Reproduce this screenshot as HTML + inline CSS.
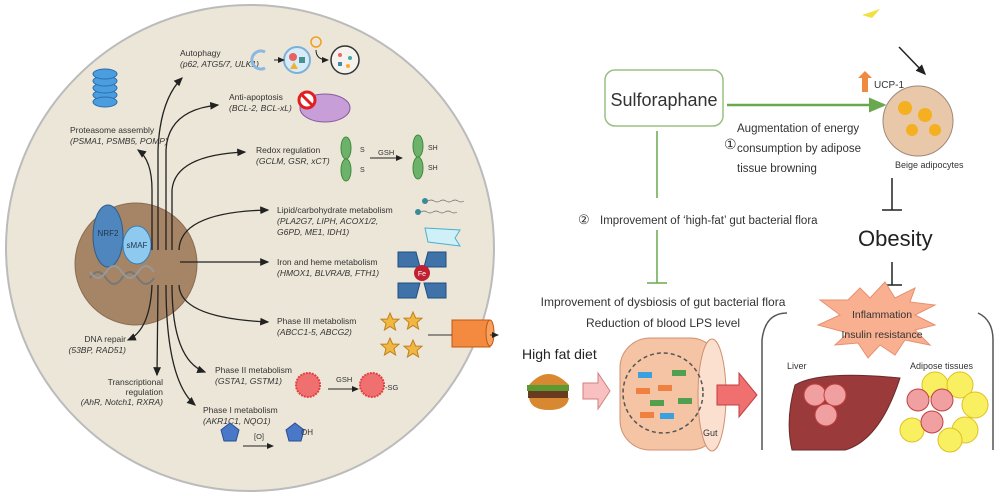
<!DOCTYPE html>
<html><head><meta charset="utf-8"><style>
html,body{margin:0;padding:0;background:#fff;}
svg{display:block;font-family:"Liberation Sans",sans-serif;}
.t{font-size:8.5px;fill:#333;}
.i{font-size:8.5px;fill:#333;font-style:italic;}
.r{font-size:11.5px;fill:#333;}
</style></head><body>
<svg width="1003" height="494" viewBox="0 0 1003 494" xmlns="http://www.w3.org/2000/svg">
<defs>
<marker id="ah" markerWidth="8" markerHeight="8" refX="6" refY="3" orient="auto"><path d="M0,0 L7,3 L0,6 Z" fill="#222"/></marker>
<marker id="ag" markerWidth="8" markerHeight="8" refX="6" refY="3" orient="auto"><path d="M0,0 L7,3 L0,6 Z" fill="#6aa84f"/></marker>
<path id="star" d="M0,-9 L2.6,-3 L9,-2.8 L4,1.5 L5.6,8 L0,4.4 L-5.6,8 L-4,1.5 L-9,-2.8 L-2.6,-3Z"/>
</defs>
<rect width="1003" height="494" fill="#fff"/>
<ellipse cx="250" cy="248" rx="244" ry="243" fill="#ece6d8" stroke="#bbb" stroke-width="2"/>
<circle cx="136" cy="264" r="61" fill="#a58565" stroke="#8a6c50"/>
<ellipse cx="108" cy="236" rx="15" ry="31" fill="#4f86bd" stroke="#2d5d8c"/>
<text x="108" y="236" font-size="8" fill="#1d3550" text-anchor="middle">NRF2</text>
<ellipse cx="137" cy="245" rx="14" ry="19" fill="#8ec9ef" stroke="#3a7db5"/>
<text x="137" y="248" font-size="8" fill="#1d3550" text-anchor="middle">sMAF</text>
<path d="M90,278 q8,-12 16,0 t16,0 t16,0 t16,0" stroke="#777" fill="none" stroke-width="2"/>
<path d="M90,272 q8,12 16,0 t16,0 t16,0 t16,0" stroke="#999" fill="none" stroke-width="2"/>
<g stroke="#222" stroke-width="1.3" fill="none" marker-end="url(#ah)">
<path d="M158,250 L158,150 Q160,100 182,78"/>
<path d="M166,250 L166,150 Q168,110 218,105"/>
<path d="M152,250 L152,190 Q152,160 138,150"/>
<path d="M172,250 L172,190 Q175,155 245,152"/>
<path d="M179,250 Q180,212 268,210"/>
<path d="M180,262 L268,262"/>
<path d="M179,285 Q180,318 268,322"/>
<path d="M172,285 Q172,360 205,372"/>
<path d="M166,285 Q166,380 195,405"/>
<path d="M158,285 L157,375"/>
<path d="M152,285 Q150,330 128,340"/>
</g>
<text class="t" x="180" y="56">Autophagy</text><text class="i" x="180" y="67">(p62, ATG5/7, ULK1)</text>
<text class="t" x="229" y="100">Anti-apoptosis</text><text class="i" x="229" y="111">(BCL-2, BCL-xL)</text>
<text class="t" x="70" y="133">Proteasome assembly</text><text class="i" x="70" y="144">(PSMA1, PSMB5, POMP)</text>
<text class="t" x="256" y="153">Redox regulation</text><text class="i" x="256" y="164">(GCLM, GSR, xCT)</text>
<text class="t" x="277" y="213">Lipid/carbohydrate metabolism</text><text class="i" x="277" y="224">(PLA2G7, LIPH, ACOX1/2,</text><text class="i" x="277" y="235">G6PD, ME1, IDH1)</text>
<text class="t" x="277" y="265">Iron and heme metabolism</text><text class="i" x="277" y="276">(HMOX1, BLVRA/B, FTH1)</text>
<text class="t" x="277" y="324">Phase III metabolism</text><text class="i" x="277" y="335">(ABCC1-5, ABCG2)</text>
<text class="t" x="126" y="342" text-anchor="end">DNA repair</text><text class="i" x="126" y="353" text-anchor="end">(53BP, RAD51)</text>
<text class="t" x="163" y="385" text-anchor="end">Transcriptional</text><text class="t" x="163" y="395" text-anchor="end">regulation</text><text class="i" x="163" y="405" text-anchor="end">(AhR, Notch1, RXRA)</text>
<text class="t" x="215" y="373">Phase II metabolism</text><text class="i" x="215" y="384">(GSTA1, GSTM1)</text>
<text class="t" x="203" y="413">Phase I metabolism</text><text class="i" x="203" y="424">(AKR1C1, NQO1)</text>
<g fill="#4a9ee0" stroke="#2a6ea8"><ellipse cx="105" cy="95" rx="12" ry="5"/><ellipse cx="105" cy="88" rx="12" ry="5"/><ellipse cx="105" cy="81" rx="12" ry="5"/><ellipse cx="105" cy="74" rx="12" ry="5"/><ellipse cx="105" cy="102" rx="12" ry="5"/></g>
<path d="M265,52 a9,9 0 1 0 0,16" stroke="#8cb8e0" stroke-width="3" fill="none"/>
<circle cx="297" cy="60" r="13" fill="#d8ecf8" stroke="#7ab0da" stroke-width="2"/>
<circle cx="293" cy="57" r="4" fill="#e86060"/><rect x="299" y="57" width="6" height="6" fill="#4a9090"/><path d="M290,69 l4,-7 l4,7z" fill="#f0b030"/>
<circle cx="316" cy="42" r="5" fill="none" stroke="#f0a020" stroke-width="1.5"/>
<circle cx="345" cy="60" r="14" fill="#f6f3ee" stroke="#333" stroke-width="1.5"/>
<circle cx="340" cy="55" r="2" fill="#e66"/><circle cx="350" cy="58" r="2" fill="#4aa"/><rect x="338" y="62" width="4" height="4" fill="#48a"/><circle cx="348" cy="66" r="2" fill="#fa3"/>
<path d="M274,60 h10" stroke="#222" marker-end="url(#ah)"/><path d="M316,50 q0,10 12,10" stroke="#222" fill="none" marker-end="url(#ah)"/>
<ellipse cx="325" cy="108" rx="25" ry="14" fill="#c79ed8" stroke="#8a5aa0"/>
<circle cx="307" cy="100" r="8" fill="#fff" stroke="#e02020" stroke-width="3"/><path d="M302,95 l10,10" stroke="#e02020" stroke-width="3"/>
<g fill="#6cb26a" stroke="#3e8a3c"><ellipse cx="346" cy="148" rx="5" ry="11"/><ellipse cx="346" cy="170" rx="5" ry="11"/><ellipse cx="418" cy="146" rx="5" ry="11"/><ellipse cx="418" cy="168" rx="5" ry="11"/></g>
<text x="360" y="152" font-size="7" fill="#333">S</text><text x="360" y="172" font-size="7" fill="#333">S</text>
<text x="378" y="155" font-size="7.5" fill="#333">GSH</text><path d="M370,158 h32" stroke="#222" marker-end="url(#ah)"/>
<text x="428" y="150" font-size="7" fill="#333">SH</text><text x="428" y="170" font-size="7" fill="#333">SH</text>
<circle cx="425" cy="201" r="3" fill="#3a8a9a"/><circle cx="418" cy="212" r="3" fill="#3a8a9a"/>
<path d="M428,201 q3,-2 6,0 t6,0 t6,0 t6,0 t6,0 t6,0 M421,212 q3,-2 6,0 t6,0 t6,0 t6,0 t6,0 t6,0" stroke="#666" fill="none" stroke-width="0.7"/>
<path d="M425,228 l35,2 l-5,8 l5,8 l-32,-4z" fill="#d0f0f8" stroke="#4ab0d0"/>
<g fill="#3f72a8" stroke="#1f4f80"><path d="M398,252 h18 l4,15 h-22z"/><path d="M428,252 h18 v15 h-22z"/><path d="M398,283 h22 l-4,15 h-18z"/><path d="M424,283 h22 v15 h-18z"/></g>
<circle cx="422" cy="273" r="8" fill="#c02030"/><text x="422" y="276" font-size="7" fill="#fff" text-anchor="middle">Fe</text>
<g fill="#f0b840" stroke="#c08020"><use href="#star" x="390" y="322"/><use href="#star" x="413" y="321"/><use href="#star" x="390" y="347"/><use href="#star" x="413" y="349"/></g>
<rect x="452" y="320" width="38" height="27" fill="#f48a40" stroke="#c05810"/><ellipse cx="490" cy="333" rx="4" ry="13" fill="#f8a060" stroke="#c05810"/>
<path d="M428,335 h24 M490,335 h8" stroke="#333" marker-end="url(#ah)"/>
<circle cx="308" cy="385" r="12" fill="#f07070" stroke="#e04040" stroke-dasharray="2,1" stroke-width="2"/>
<circle cx="372" cy="385" r="12" fill="#f07070" stroke="#e04040" stroke-dasharray="2,1" stroke-width="2"/>
<text x="336" y="382" font-size="7.5" fill="#333">GSH</text><path d="M328,389 h30" stroke="#222" marker-end="url(#ah)"/>
<text x="385" y="390" font-size="7.5" fill="#333">-SG</text>
<path d="M230,423 l9,7 l-3,11 h-12 l-3,-11z" fill="#4a78c8" stroke="#2a4e90"/>
<path d="M295,423 l9,7 l-3,11 h-12 l-3,-11z" fill="#4a78c8" stroke="#2a4e90"/>
<text x="254" y="439" font-size="7.5" fill="#333">[O]</text><path d="M243,446 h30" stroke="#222" marker-end="url(#ah)"/>
<text x="301" y="435" font-size="8" fill="#333">OH</text>

<rect x="605" y="70" width="118" height="56" rx="10" fill="#fff" stroke="#98c080" stroke-width="1.5"/>
<text x="664" y="106" font-size="18" fill="#333" text-anchor="middle">Sulforaphane</text>
<path d="M727,105 H884" stroke="#6aa84f" stroke-width="2.5" marker-end="url(#ag)"/>
<text class="r" x="737" y="132">Augmentation of energy</text>
<text x="724" y="149" font-size="14" fill="#333">①</text>
<text class="r" x="737" y="152">consumption by adipose</text>
<text class="r" x="737" y="172">tissue browning</text>
<path d="M657,131 V198 M657,230 V283 M647,283 H667" stroke="#6aa84f" stroke-width="1.5"/>
<text x="578" y="224" font-size="13" fill="#333">②</text>
<text class="r" x="600" y="224">Improvement of ‘high-fat’ gut bacterial flora</text>
<path d="M862,92 v-14 h-4 l7,-7 l7,7 h-4 v14z" fill="#f08a40"/>
<text x="874" y="88" font-size="10" fill="#333">UCP-1</text>
<path d="M862,15 l18,-6 l-8,9z" fill="#f0e040"/>
<path d="M899,47 L925,74" stroke="#222" stroke-width="1.5" marker-end="url(#ah)"/>
<circle cx="918" cy="121" r="35" fill="#e8c8a8" stroke="#a08878"/>
<g fill="#f4b020"><circle cx="905" cy="108" r="7"/><circle cx="925" cy="115" r="7"/><circle cx="912" cy="130" r="6"/><circle cx="935" cy="130" r="6"/></g>
<text x="895" y="168" font-size="9" fill="#333">Beige adipocytes</text>
<path d="M892,178 V210 M882,210 H902 M892,262 V285 M882,285 H902" stroke="#222" stroke-width="1.5"/>
<text x="858" y="246" font-size="22" fill="#222">Obesity</text>
<path d="M820,300 L848,300 L860,288 L870,298 L885,282 L895,298 L915,288 L910,302 L935,305 L915,315 L935,325 L915,330 L930,345 L905,340 L895,355 L880,345 L868,358 L858,343 L835,345 L848,333 L818,325 L840,315 Z" fill="#f8b090" stroke="#e89070"/>
<text x="882" y="318" font-size="10.5" fill="#333" text-anchor="middle">Inflammation</text>
<text x="882" y="338" font-size="10.5" fill="#333" text-anchor="middle">Insulin resistance</text>
<text x="663" y="306" font-size="12" fill="#333" text-anchor="middle">Improvement of dysbiosis of gut bacterial flora</text>
<text x="663" y="327" font-size="12" fill="#333" text-anchor="middle">Reduction of blood LPS level</text>
<path d="M787,313 Q765,313 762,340 V450 M978,313 Q993,320 993,340 V450" stroke="#555" fill="none" stroke-width="1.5"/>
<text x="522" y="359" font-size="14" fill="#222">High fat diet</text>
<path d="M529,385 q19,-22 40,0z" fill="#d88830"/><rect x="527" y="385" width="42" height="6" fill="#5a9a30"/><rect x="528" y="391" width="40" height="7" fill="#6a3a20"/><path d="M529,398 h40 q-2,12 -20,12 q-18,0 -20,-12z" fill="#d88830"/>
<path d="M583,383 h15 v-10 l12,18 l-12,18 v-10 h-15z" fill="#f8c0c0" stroke="#d08080"/>
<rect x="620" y="338" width="100" height="112" rx="30" fill="#f4c4a4" stroke="#d09070"/>
<ellipse cx="712" cy="395" rx="14" ry="56" fill="#fbe0d0" stroke="#d09070"/>
<circle cx="663" cy="393" r="40" fill="none" stroke="#555" stroke-dasharray="4,3" stroke-width="1.5"/>
<g><rect x="638" y="372" width="14" height="6" fill="#3aa0e0"/><rect x="672" y="370" width="14" height="6" fill="#50a050"/><rect x="636" y="388" width="14" height="6" fill="#f08040"/><rect x="658" y="385" width="14" height="6" fill="#f08040"/><rect x="650" y="400" width="14" height="6" fill="#50a050"/><rect x="678" y="398" width="14" height="6" fill="#50a050"/><rect x="640" y="412" width="14" height="6" fill="#f08040"/><rect x="660" y="413" width="14" height="6" fill="#3aa0e0"/></g>
<text x="703" y="436" font-size="9" fill="#333">Gut</text>
<path d="M717,385 h22 v-12 l18,22 l-18,22 v-12 h-22z" fill="#f07070" stroke="#c04040"/>
<text x="787" y="369" font-size="9" fill="#333">Liver</text>
<text x="910" y="369" font-size="9" fill="#333">Adipose tissues</text>
<path d="M795,385 Q820,370 900,378 Q880,440 845,450 L792,450 Q785,420 795,385z" fill="#9a3a3a" stroke="#6a2a2a"/>
<g fill="#f0a0a0" stroke="#c04040"><circle cx="815" cy="395" r="11"/><circle cx="835" cy="395" r="11"/><circle cx="826" cy="415" r="11"/></g>
<g fill="#f8f060" stroke="#e0c020"><circle cx="935" cy="385" r="13"/><circle cx="960" cy="385" r="13"/><circle cx="975" cy="405" r="13"/><circle cx="965" cy="430" r="13"/><circle cx="912" cy="430" r="12"/><circle cx="950" cy="440" r="12"/></g>
<g fill="#f0a0a0" stroke="#c04040"><circle cx="918" cy="400" r="11"/><circle cx="942" cy="400" r="11"/><circle cx="932" cy="422" r="11"/></g>
</svg>
</body></html>
